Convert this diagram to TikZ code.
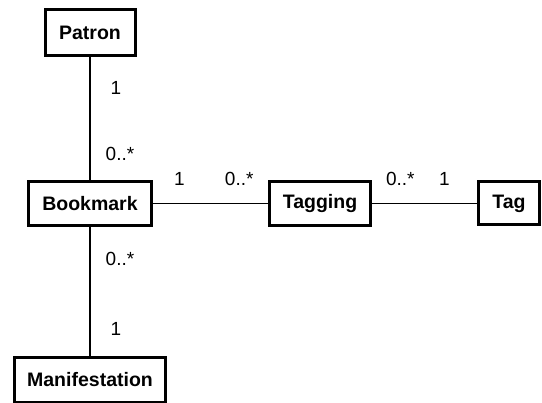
\documentclass[tikz,border=0pt]{standalone}
\usepackage{fontspec}
\setmainfont{Liberation Sans}
\usetikzlibrary{positioning}

\tikzset{
  entity/.style={draw, line width=3pt, inner sep=0pt,
    font=\fontsize{19.5}{22}\selectfont\bfseries},
  mult/.style={inner sep=0pt, font=\fontsize{19}{21}\selectfont},
  assoc/.style={line width=1.1pt},
}

\begin{document}
\begin{tikzpicture}[x=1pt,y=-1pt]
    \useasboundingbox (0,0) rectangle (542,403);
    \clip (0,0) rectangle (542,403);
    \node[entity, minimum width=90pt, minimum height=46pt] (patron) at (90,32.5) {Patron};
    \node[entity, minimum width=123pt, minimum height=44pt] (bookmark) at (90,203.5) {Bookmark};
    \node[entity, minimum width=101pt, minimum height=44pt] (tagging) at (320,203.5) {Tagging};
    \node[entity, minimum width=61pt, minimum height=43pt] (tag) at (509,203.5) {Tag};
    \node[entity, minimum width=151pt, minimum height=45pt] (manifestation) at (90,380) {Manifestation};

    % associations with multiplicities
    \draw[assoc] (patron) -- node[mult, pos=.25, xshift=26pt] (m1) {1}
        node[mult, pos=.79, xshift=30pt] (m2) {0..*} (bookmark);
    \draw[assoc] (bookmark) -- node[mult, pos=.23, yshift=25pt] (m3) {1}
        node[mult, pos=.75, yshift=25pt] (m4) {0..*} (tagging);
    \draw[assoc] (tagging) -- node[mult, pos=.27, yshift=25pt] (m5) {0..*}
        node[mult, pos=.69, yshift=25pt] (m6) {1} (tag);
    \draw[assoc] (bookmark) -- node[mult, pos=.25, xshift=30pt] (m7) {0..*}
        node[mult, pos=.79, xshift=26pt] (m8) {1} (manifestation);
\end{tikzpicture}
\end{document}
